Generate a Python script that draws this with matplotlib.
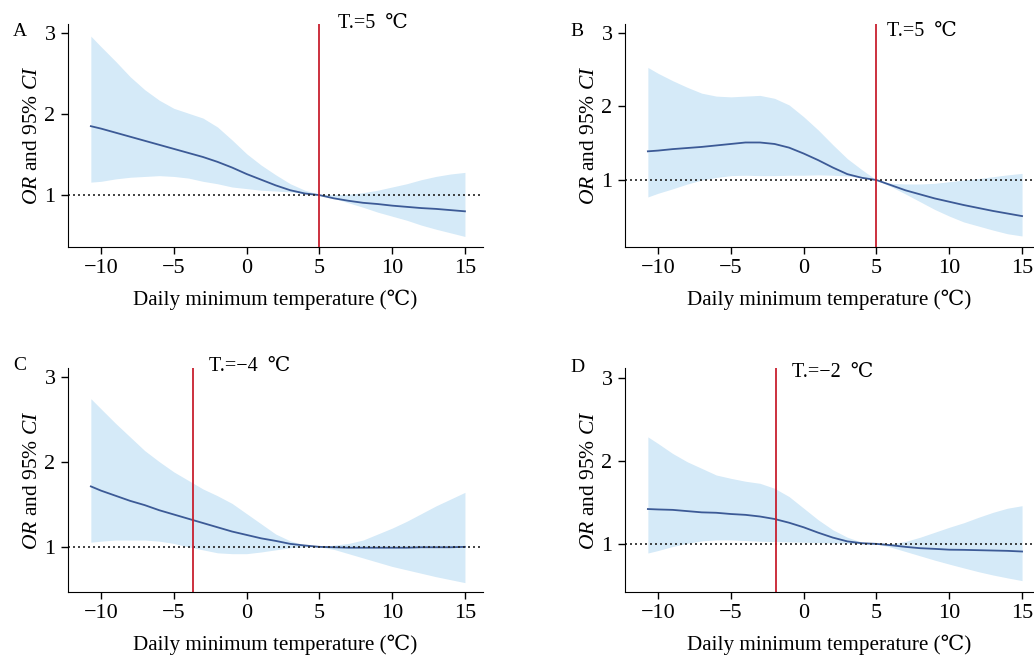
import numpy as np
import matplotlib
matplotlib.use("Agg")
import matplotlib.pyplot as plt

plt.rcParams['font.family'] = ['Liberation Serif', 'DejaVu Serif']
plt.rcParams['mathtext.fontset'] = 'custom'
plt.rcParams['mathtext.rm'] = 'Liberation Serif'
plt.rcParams['mathtext.it'] = 'Liberation Serif:italic'

temp = [-10.7, -10, -9, -8, -7, -6, -5, -4, -3, -2, -1, 0, 1, 2, 3,
        4, 5, 6, 7, 8, 9, 10, 11, 12, 13, 14, 15]

or_a = [1.85, 1.82, 1.77, 1.72, 1.67, 1.62, 1.57, 1.52, 1.47, 1.41, 1.34, 1.26, 1.19, 1.12,
        1.06, 1.02, 1.0, 0.96, 0.93, 0.905, 0.89, 0.87, 0.855, 0.84, 0.83, 0.815, 0.80]
hi_a = [2.96, 2.83, 2.65, 2.46, 2.30, 2.17, 2.07, 2.01, 1.95, 1.84, 1.68, 1.51, 1.37, 1.25,
        1.14, 1.06, 1.01, 1.005, 1.01, 1.03, 1.06, 1.10, 1.14, 1.19, 1.23, 1.26, 1.28]
lo_a = [1.16, 1.17, 1.20, 1.22, 1.23, 1.24, 1.23, 1.21, 1.17, 1.14, 1.10, 1.08, 1.06, 1.05,
        1.04, 1.02, 1.0, 0.96, 0.905, 0.85, 0.79, 0.74, 0.69, 0.63, 0.58, 0.535, 0.49]

or_b = [1.39, 1.40, 1.42, 1.435, 1.45, 1.47, 1.49, 1.51, 1.51, 1.49, 1.44, 1.36, 1.27, 1.17,
        1.08, 1.03, 1.0, 0.93, 0.86, 0.805, 0.75, 0.705, 0.66, 0.62, 0.58, 0.545, 0.51]
hi_b = [2.53, 2.45, 2.35, 2.26, 2.18, 2.14, 2.13, 2.14, 2.15, 2.11, 2.02, 1.86, 1.68, 1.48,
        1.29, 1.14, 1.0, 0.955, 0.946, 0.946, 0.955, 0.977, 1.0, 1.02, 1.045, 1.07, 1.09]
lo_b = [0.77, 0.82, 0.88, 0.945, 1.0, 1.035, 1.06, 1.065, 1.06, 1.06, 1.065, 1.065, 1.07, 1.065,
        1.055, 1.035, 1.0, 0.91, 0.81, 0.705, 0.60, 0.51, 0.43, 0.375, 0.32, 0.27, 0.24]

or_c = [1.71, 1.66, 1.60, 1.54, 1.49, 1.43, 1.38, 1.33, 1.28, 1.23, 1.18, 1.14, 1.10, 1.07,
        1.035, 1.016, 1.0, 0.995, 0.99, 0.99, 0.99, 0.99, 0.99, 0.995, 0.995, 0.995, 1.0]
hi_c = [2.74, 2.62, 2.45, 2.29, 2.13, 2.0, 1.88, 1.78, 1.68, 1.60, 1.51, 1.39, 1.27, 1.15,
        1.07, 1.02, 1.0, 1.02, 1.04, 1.08, 1.15, 1.22, 1.30, 1.39, 1.48, 1.56, 1.64]
lo_c = [1.055, 1.067, 1.08, 1.08, 1.08, 1.067, 1.04, 1.0, 0.965, 0.93, 0.92, 0.92, 0.94, 0.965,
        0.99, 1.0, 1.0, 0.97, 0.92, 0.87, 0.82, 0.77, 0.73, 0.69, 0.65, 0.615, 0.58]

or_d = [1.42, 1.415, 1.41, 1.395, 1.38, 1.375, 1.36, 1.35, 1.33, 1.30, 1.255, 1.20, 1.135, 1.076,
        1.03, 1.008, 1.0, 0.984, 0.964, 0.948, 0.94, 0.93, 0.928, 0.924, 0.92, 0.916, 0.908]
hi_d = [2.29, 2.21, 2.09, 1.99, 1.91, 1.83, 1.79, 1.755, 1.73, 1.67, 1.57, 1.43, 1.29, 1.17,
        1.08, 1.02, 1.0, 1.0, 1.03, 1.08, 1.14, 1.20, 1.255, 1.32, 1.38, 1.43, 1.46]
lo_d = [0.89, 0.92, 0.968, 1.008, 1.036, 1.048, 1.048, 1.04, 1.032, 1.028, 1.024, 1.02, 1.016, 1.012,
        1.008, 1.004, 1.0, 0.96, 0.908, 0.856, 0.804, 0.756, 0.71, 0.665, 0.625, 0.59, 0.557]

letters = ['A', 'B', 'C', 'D']
thresholds = [5, 5, -3.7, -1.9]
thr_labels = ['T.=5  ℃', 'T.=5  ℃', 'T.=−4  ℃', 'T.=−2  ℃']
ylims = [(0.36, 3.11), (0.09, 3.12), (0.47, 3.1), (0.42, 3.12)]

W, H = 1034, 657
# axes boxes in pixels: left, top, right, bottom
boxes = [(68, 24, 483, 247), (625, 24, 1034, 247),
         (68, 368, 483, 592), (625, 368, 1034, 592)]
xlims = [(-12.27, 16.24), (-12.27, 15.82), (-12.27, 16.24), (-12.27, 15.82)]
label_pos = [(338, 23), (887, 31), (209, 366), (792, 372)]
letter_pos = [(20, 31), (577, 31), (20, 366), (577, 368)]

series = [(or_a, hi_a, lo_a), (or_b, hi_b, lo_b), (or_c, hi_c, lo_c), (or_d, hi_d, lo_d)]

fig = plt.figure(figsize=(W / 100, H / 100), dpi=100)

for i in range(4):
    l, t, r, b = boxes[i]
    ax = fig.add_axes([l / W, 1 - b / H, (r - l) / W, (b - t) / H])
    est, hi, lo = series[i]
    ax.fill_between(temp, lo, hi, color='#d5eaf8', lw=0)
    ax.plot(temp, est, color='#3c5a96', lw=1.3)
    ax.axhline(1, color='#222222', lw=1.2, ls=(0, (1.2, 1.8)))
    ax.axvline(thresholds[i], color='#c8202f', lw=1.3)

    ax.set_xlim(*xlims[i])
    ax.set_ylim(*ylims[i])
    ax.set_xticks([-10, -5, 0, 5, 10, 15])
    ax.set_yticks([1, 2, 3])
    ax.spines['top'].set_visible(False)
    ax.spines['right'].set_visible(False)
    ax.tick_params(labelsize=16, length=5, width=1, direction='out', pad=4)
    ax.set_xlabel('Daily minimum temperature (℃)', fontsize=15.2, labelpad=8)
    ax.set_ylabel(r'$\mathit{OR}$ and 95% $\mathit{CI}$', fontsize=15.5, labelpad=2)

    fig.text(label_pos[i][0] / W, 1 - label_pos[i][1] / H, thr_labels[i], fontsize=14.5,
             ha='left', va='center')
    fig.text(letter_pos[i][0] / W, 1 - letter_pos[i][1] / H, letters[i], fontsize=14,
             ha='center', va='center')

fig.savefig('out.png', dpi=100)
